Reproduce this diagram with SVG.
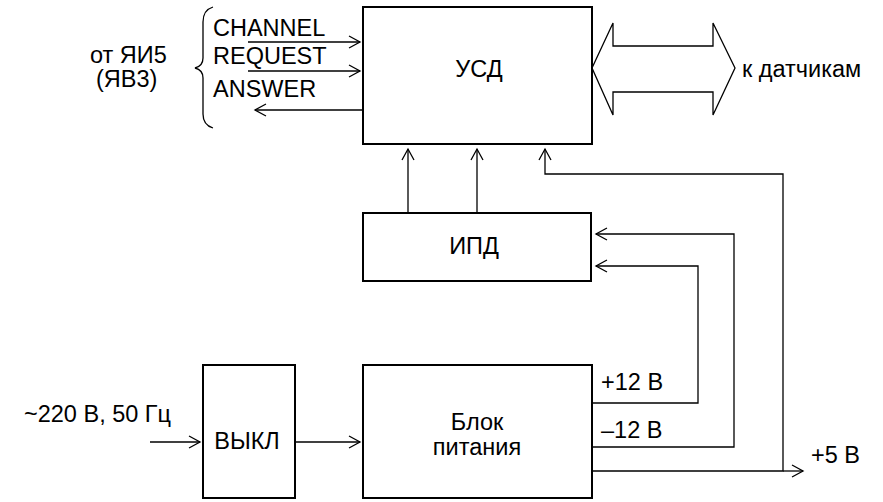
<svg xmlns="http://www.w3.org/2000/svg" width="883" height="502" viewBox="0 0 883 502">
<defs>
<style>
.box{fill:#fff;stroke:#000;stroke-width:2}
.ln{fill:none;stroke:#000;stroke-width:1.3}
text{font-family:"Liberation Sans",Arial,sans-serif;font-size:23.5px;fill:#000}
.c{text-anchor:middle}
</style>
<marker id="ah" markerUnits="userSpaceOnUse" markerWidth="30" markerHeight="30" refX="0" refY="0" orient="auto" overflow="visible">
<path d="M-11,-6 L0,0 L-11,6" fill="none" stroke="#000" stroke-width="1.3"/>
</marker>
</defs>
<rect width="883" height="502" fill="#fff"/>
<g id="connectors">
<line class="ln" x1="248" y1="42" x2="360" y2="42" marker-end="url(#ah)"/>
<line class="ln" x1="248" y1="71" x2="360" y2="71" marker-end="url(#ah)"/>
<line class="ln" x1="363" y1="110" x2="255" y2="110" marker-end="url(#ah)"/>
<line class="ln" x1="408" y1="213" x2="408" y2="149" marker-end="url(#ah)"/>
<line class="ln" x1="477" y1="213" x2="477" y2="149" marker-end="url(#ah)"/>
<polyline class="ln" points="592,471 783,471 783,174 545,174 545,149" marker-end="url(#ah)"/>
<polyline class="ln" points="592,403 698,403 698,266 596,266" marker-end="url(#ah)"/>
<polyline class="ln" points="592,447 734,447 734,234 596,234" marker-end="url(#ah)"/>
<line class="ln" x1="783" y1="471" x2="803" y2="471" marker-end="url(#ah)"/>
<line class="ln" x1="150" y1="442" x2="200" y2="442" marker-end="url(#ah)"/>
<line class="ln" x1="295" y1="442" x2="360" y2="442" marker-end="url(#ah)"/>
<path class="ln" d="M592,68 L613,23 L613,46 L713,46 L713,23 L735,68 L713,115 L713,92 L613,92 L613,115 Z" stroke-width="1.2"/>
<path class="ln" d="M213,7 Q203,10 203,22 L203,58 Q203,66 195,68 Q203,70 203,78 L203,114 Q203,125 213,128"/>
</g>
<g id="labels">
<text x="90" y="63">от ЯИ5</text>
<text x="96" y="87">(ЯВ3)</text>
<text x="213" y="36">CHANNEL</text>
<text x="213" y="64">REQUEST</text>
<text x="213" y="97">ANSWER</text>
<text x="742" y="77">к датчикам</text>
<text x="24" y="422">~220 В, 50 Гц</text>
<text x="601" y="390">+12 В</text>
<text x="601" y="438">–12 В</text>
<text x="811" y="463">+5 В</text>
</g>
<g id="usd">
<rect class="box" x="363" y="7" width="229" height="137"/>
<text class="c" x="479" y="77">УСД</text>
</g>
<g id="ipd">
<rect class="box" x="363" y="213" width="228" height="68"/>
<text class="c" x="474" y="254">ИПД</text>
</g>
<g id="vykl">
<rect class="box" x="203" y="365" width="92" height="133"/>
<text class="c" x="247" y="449">ВЫКЛ</text>
</g>
<g id="power">
<rect class="box" x="363" y="365" width="229" height="133"/>
<text class="c" x="477" y="430">Блок</text>
<text class="c" x="477" y="455">питания</text>
</g>
</svg>
